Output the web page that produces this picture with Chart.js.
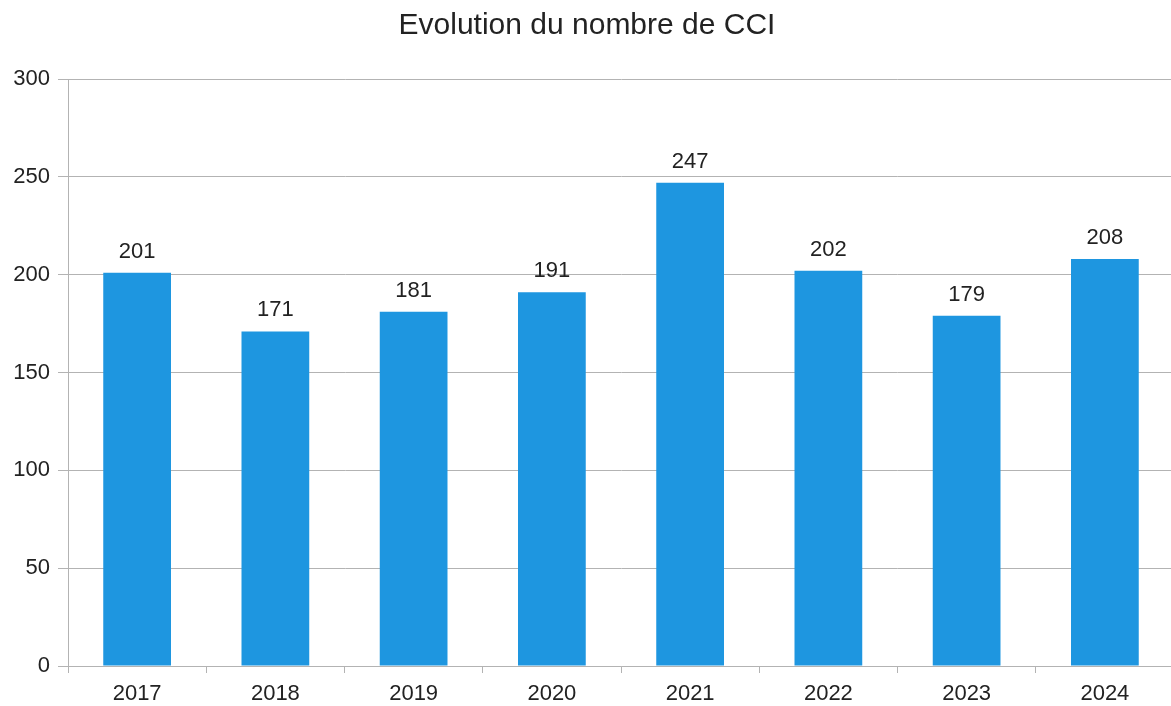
<!DOCTYPE html>
<html>
<head>
<meta charset="utf-8">
<script src="https://cdn.jsdelivr.net/npm/chart.js@4"></script>
<style>
  html, body { margin: 0; padding: 0; background: #fff; overflow: hidden; }
  #wrap { width: 1174px; height: 706px; }
</style>
</head>
<body>
<div id="wrap"><canvas id="cciChart"></canvas></div>
<script>
const years = ['2017', '2018', '2019', '2020', '2021', '2022', '2023', '2024'];
const cciCounts = [201, 171, 181, 191, 247, 202, 179, 208];
const yTicks = [0, 50, 100, 150, 200, 250, 300];

// draws the value above each bar
const valueLabels = {
    id: 'valueLabels',
    afterDatasetsDraw(chart) {
        const ctx = chart.ctx;
        const meta = chart.getDatasetMeta(0);
        ctx.save();
        ctx.font = "22px 'Liberation Sans', Arial, sans-serif";
        ctx.fillStyle = '#222';
        ctx.textAlign = 'center';
        ctx.textBaseline = 'bottom';
        meta.data.forEach((bar, i) => {
            ctx.fillText(cciCounts[i], bar.x, bar.y - 10);
        });
        ctx.restore();
    }
};

Chart.defaults.font.family = "'Liberation Sans', Arial, sans-serif";
Chart.defaults.color = '#222';

new Chart(document.getElementById('cciChart'), {
    type: 'bar',
    data: {
        labels: years,
        datasets: [{
            data: cciCounts,
            backgroundColor: '#1e96e0',
            categoryPercentage: 1,
            barPercentage: 0.49
        }]
    },
    options: {
        responsive: true,
        maintainAspectRatio: false,
        animation: false,
        layout: { padding: 0 },
        plugins: {
            legend: { display: false },
            tooltip: { enabled: false },
            title: {
                display: true,
                text: 'Evolution du nombre de CCI',
                font: { size: 30, weight: 'normal' },
                color: '#222',
                padding: { top: 8, bottom: 35 }
            }
        },
        scales: {
            x: {
                grid: { drawOnChartArea: false, color: '#b3b3b3', tickLength: 7, offset: true },
                border: { color: '#b3b3b3' },
                ticks: { font: { size: 22 }, color: '#222', padding: 8 },
                afterFit(scale) { scale.height = 40; }
            },
            y: {
                min: 0,
                max: 300,
                afterBuildTicks(scale) { scale.ticks = yTicks.map(v => ({ value: v })); },
                grid: { color: '#b3b3b3', tickLength: 10 },
                border: { color: '#b3b3b3' },
                ticks: { font: { size: 22 }, color: '#222', padding: 8 },
                afterFit(scale) { scale.width = 68; }
            }
        }
    },
    plugins: [valueLabels]
});
</script>
</body>
</html>
